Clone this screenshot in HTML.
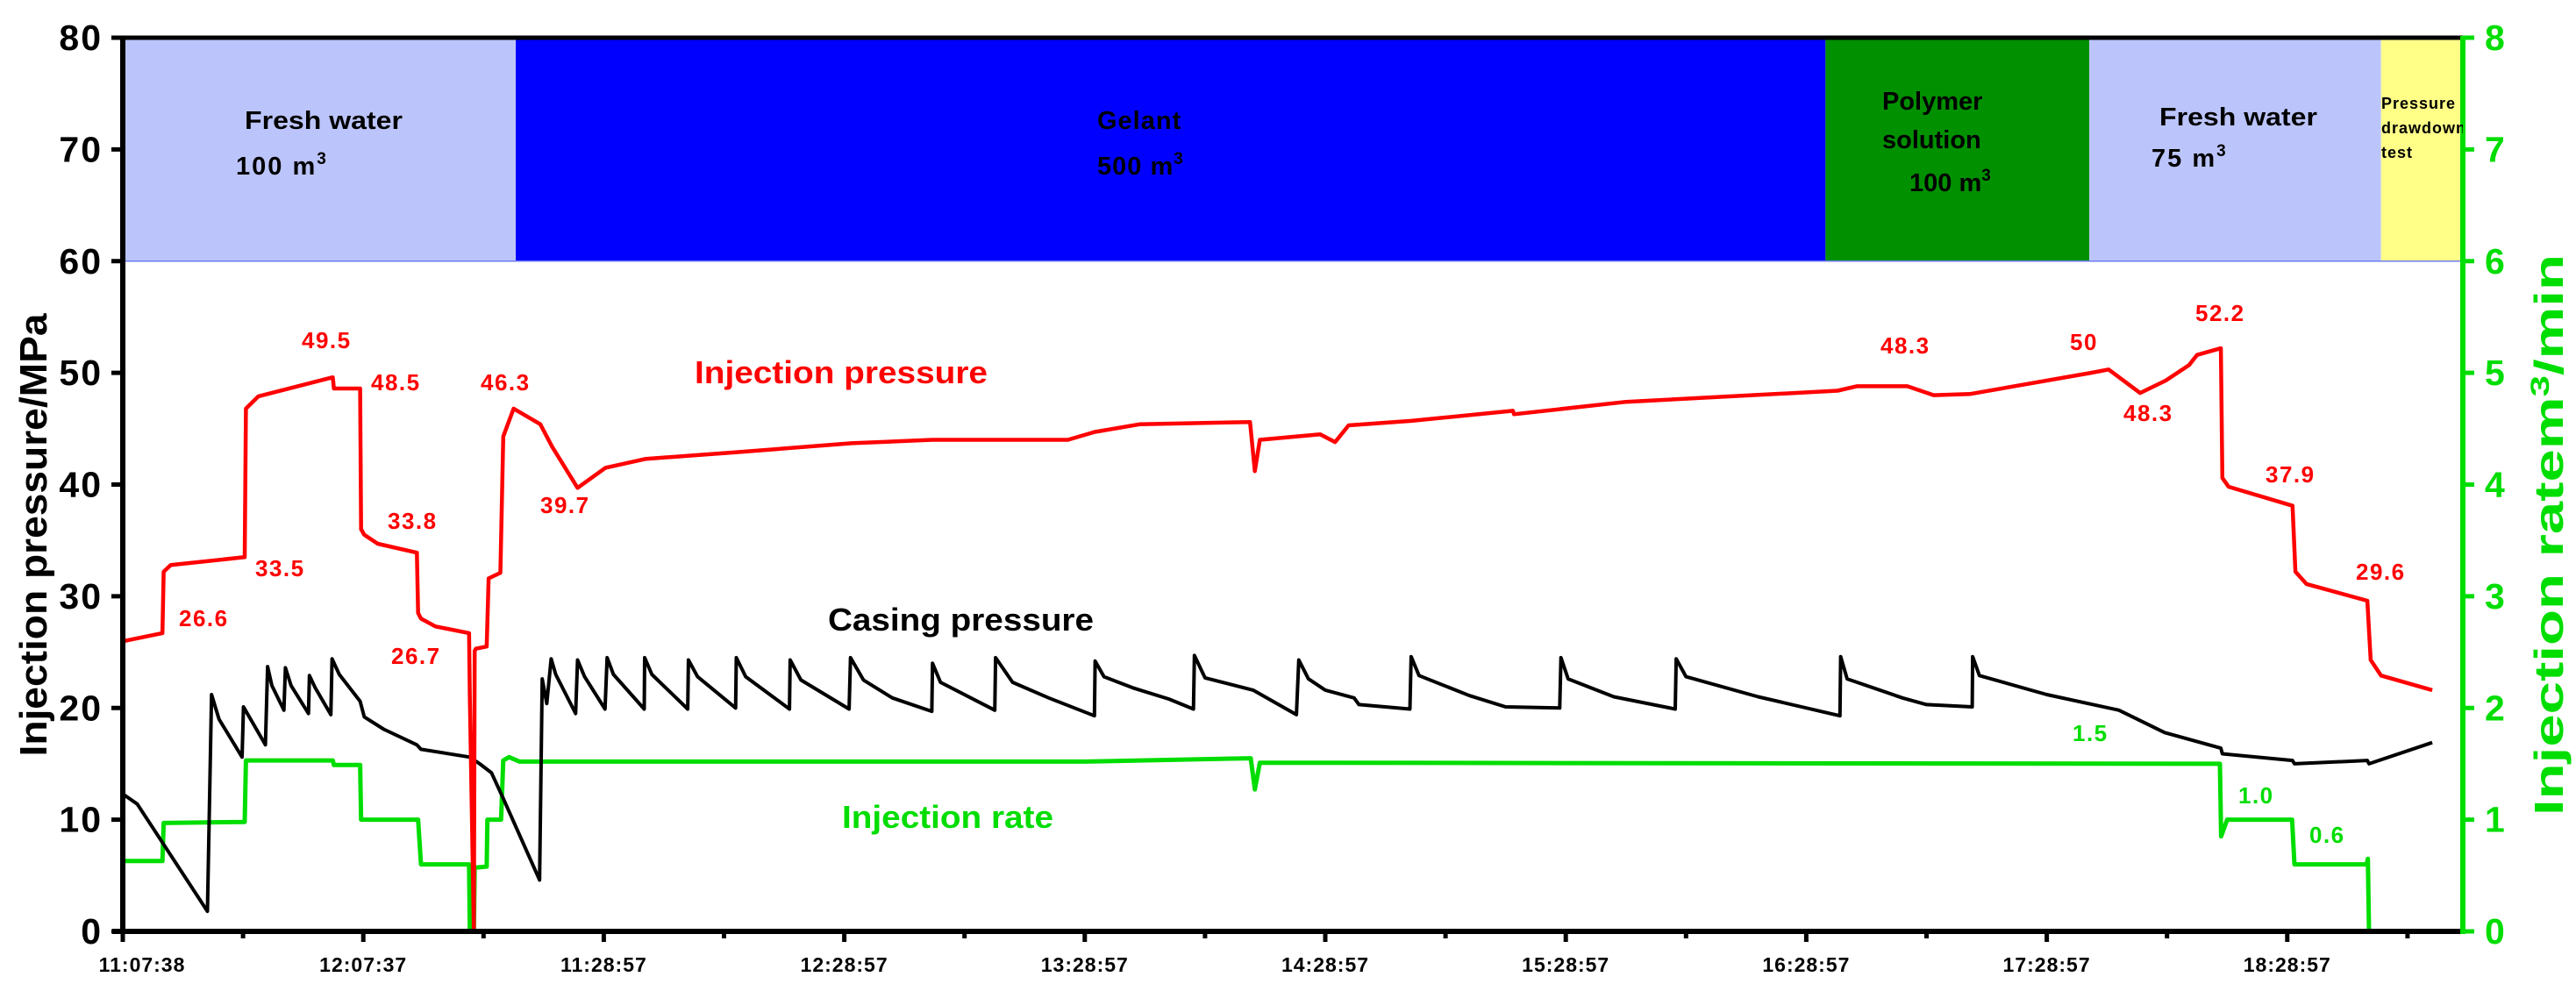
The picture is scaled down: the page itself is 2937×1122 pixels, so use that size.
<!DOCTYPE html>
<html><head><meta charset="utf-8"><style>
html,body{margin:0;padding:0;background:#fff;}
svg{display:block;font-family:"Liberation Sans",Arial,sans-serif;font-weight:bold;}
</style></head><body>
<svg id="chart" width="2937" height="1122" viewBox="0 0 2937 1122" xmlns="http://www.w3.org/2000/svg">
<g id="bands"></g>
<g id="series"></g>
<g id="axes"></g>
<g id="labels"></g>
</svg>
<script>
const leftTicks=[0,10,20,30,40,50,60,70,80];
const rightTicks=[0,1,2,3,4,5,6,7,8];
const xTickLabels=["11:07:38","12:07:37","11:28:57","12:28:57","13:28:57","14:28:57","15:28:57","16:28:57","17:28:57","18:28:57"];
const phaseStart=[0,1.634,7.08,8.177,9.39];
const phaseEnd=[1.634,7.08,8.177,9.39,9.73];
const phaseColors=["#bcc5fb","#0000ff","#009000","#bcc5fb","#ffff88"];
const injectionPressure=[[0.007,26.0],[0.165,26.7],[0.17,32.2],[0.2,32.8],[0.507,33.5],[0.512,46.8],[0.564,47.9],[0.873,49.6],[0.878,48.6],[0.987,48.6],[0.991,36.0],[1.004,35.5],[1.06,34.7],[1.223,33.9],[1.228,28.5],[1.24,28.0],[1.30,27.3],[1.44,26.7],[1.443,20.9],[1.46,0],[1.463,25.1],[1.468,25.3],[1.513,25.5],[1.521,31.6],[1.57,32.1],[1.582,44.3],[1.625,46.8],[1.736,45.4],[1.785,43.4],[1.891,39.7],[2.007,41.5],[2.175,42.3],[2.553,42.9],[3.03,43.7],[3.367,44.0],[3.763,44.0],[3.93,44.0],[4.04,44.7],[4.23,45.4],[4.687,45.6],[4.707,41.2],[4.728,44.0],[4.979,44.5],[5.041,43.8],[5.097,45.3],[5.357,45.7],[5.78,46.6],[5.785,46.3],[6.25,47.4],[7.13,48.4],[7.21,48.8],[7.42,48.8],[7.53,48.0],[7.68,48.1],[8.184,50.0],[8.257,50.3],[8.388,48.2],[8.494,49.3],[8.592,50.7],[8.625,51.6],[8.724,52.2],[8.73,40.6],[8.756,39.8],[9.022,38.1],[9.034,32.2],[9.08,31.1],[9.333,29.6],[9.347,24.3],[9.39,22.9],[9.603,21.6]];
const casingPressure=[[0.007,12.2],[0.06,11.4],[0.352,1.8],[0.369,21.2],[0.40,19.0],[0.496,15.6],[0.502,20.1],[0.593,16.7],[0.602,23.7],[0.62,22.0],[0.67,19.8],[0.676,23.6],[0.70,22.0],[0.772,19.5],[0.776,22.9],[0.80,21.8],[0.865,19.4],[0.87,24.4],[0.90,23.0],[0.987,20.6],[1.004,19.2],[1.085,18.1],[1.223,16.7],[1.24,16.3],[1.443,15.6],[1.484,15.0],[1.533,14.2],[1.582,11.9],[1.733,4.6],[1.744,22.6],[1.763,20.4],[1.781,24.4],[1.80,23.0],[1.883,19.5],[1.891,24.3],[1.92,22.8],[2.005,19.9],[2.014,24.5],[2.04,23.0],[2.168,19.9],[2.17,24.5],[2.20,23.0],[2.349,19.9],[2.352,24.3],[2.39,22.8],[2.548,20.0],[2.551,24.5],[2.59,22.8],[2.772,19.9],[2.775,24.3],[2.82,22.5],[3.02,19.9],[3.026,24.5],[3.08,22.5],[3.2,20.9],[3.364,19.7],[3.367,24.0],[3.40,22.3],[3.626,19.8],[3.629,24.5],[3.70,22.3],[3.85,20.9],[4.04,19.3],[4.043,24.2],[4.08,22.8],[4.2,21.8],[4.35,20.8],[4.452,19.9],[4.456,24.7],[4.50,22.7],[4.7,21.6],[4.88,19.4],[4.89,24.3],[4.93,22.6],[5.0,21.6],[5.12,20.9],[5.14,20.3],[5.352,19.9],[5.357,24.6],[5.39,22.9],[5.6,21.1],[5.75,20.1],[5.975,20.0],[5.98,24.5],[6.01,22.6],[6.2,21.0],[6.455,19.9],[6.459,24.4],[6.50,22.8],[6.8,21.0],[7.14,19.3],[7.143,24.6],[7.17,22.6],[7.40,20.9],[7.50,20.3],[7.69,20.1],[7.692,24.6],[7.72,22.9],[8.0,21.2],[8.3,19.8],[8.49,17.8],[8.724,16.4],[8.73,15.9],[9.022,15.3],[9.03,15.0],[9.333,15.3],[9.34,15.0],[9.603,16.9]];
const injectionRate=[[0.007,0.63],[0.165,0.63],[0.17,0.97],[0.507,0.98],[0.512,1.53],[0.873,1.53],[0.878,1.49],[0.987,1.49],[0.991,1.0],[1.228,1.0],[1.24,0.6],[1.44,0.6],[1.443,0],[1.46,0],[1.463,0.57],[1.513,0.58],[1.516,1.0],[1.573,1.0],[1.582,1.53],[1.606,1.56],[1.65,1.52],[4.0,1.52],[4.69,1.55],[4.707,1.27],[4.728,1.51],[8.72,1.50],[8.725,0.85],[8.75,1.0],[9.02,1.0],[9.03,0.6],[9.33,0.6],[9.335,0.65],[9.34,0]];

const X0=140,X1=2808,Y0=1062,Y1=43,XU=274.2;
function xS(t){return X0+t*XU;}
function yL(p){return Y0-(p/80)*(Y0-Y1);}
function yR(r){return Y0-(r/8)*(Y0-Y1);}
const NS="http://www.w3.org/2000/svg";
function mk(tag,attrs,parent){const e=document.createElementNS(NS,tag);for(const k in attrs)e.setAttribute(k,attrs[k]);parent.appendChild(e);return e;}
const bands=document.getElementById('bands'),series=document.getElementById('series'),axes=document.getElementById('axes'),labels=document.getElementById('labels');

for(let i=0;i<phaseStart.length;i++){
  const r=mk('rect',{x:xS(phaseStart[i]),y:yL(80),width:Math.min(xS(phaseEnd[i]),X1)-xS(phaseStart[i]),height:yL(60)-yL(80),fill:phaseColors[i]},bands);
  
  
}
const bl=mk('line',{x1:X0,x2:X1,y1:yL(60),y2:yL(60),stroke:'#6c7cf0','stroke-width':1.5},bands);



function pathOf(arr,yf){return arr.map((d,i)=>(i?'L':'M')+xS(d[0]).toFixed(1)+' '+yf(d[1]).toFixed(1)).join(' ');}
const gp=mk('path',{d:pathOf(injectionRate,yR),fill:'none',stroke:'#00dd00','stroke-width':5,'stroke-linejoin':'round'},series);


const bp=mk('path',{d:pathOf(casingPressure,yL),fill:'none',stroke:'#000','stroke-width':4,'stroke-linejoin':'round'},series);


const rp=mk('path',{d:pathOf(injectionPressure,yL),fill:'none',stroke:'#ff0000','stroke-width':4.5,'stroke-linejoin':'round'},series);



const la=mk('line',{x1:X0,x2:X0,y1:Y1-2,y2:Y0+3,stroke:'#000','stroke-width':6},axes);


const ta=mk('line',{x1:X0-12,x2:X1,y1:Y1,y2:Y1,stroke:'#000','stroke-width':5},axes);


const ba=mk('line',{x1:X0-12,x2:X1,y1:Y0,y2:Y0,stroke:'#000','stroke-width':6},axes);


const ra=mk('line',{x1:X1,x2:X1,y1:Y1-2,y2:Y0+3,stroke:'#00dd00','stroke-width':6},axes);


leftTicks.forEach(v=>{
  mk('line',{x1:X0-13,x2:X0,y1:yL(v),y2:yL(v),stroke:'#000','stroke-width':5},axes);
  const t=mk('text',{x:117,y:yL(v)+14,'text-anchor':'end','font-size':41,'letter-spacing':2,fill:'#000'},axes);
  t.textContent=v;
  
  
});
rightTicks.forEach(v=>{
  mk('line',{x1:X1,x2:X1+13,y1:yR(v),y2:yR(v),stroke:'#00dd00','stroke-width':5},axes);
  const t=mk('text',{x:2833,y:yR(v)+14,'text-anchor':'start','font-size':41,fill:'#00dd00'},axes);
  t.textContent=v;
  
  
});
xTickLabels.forEach((lab,i)=>{
  mk('line',{x1:xS(i),x2:xS(i),y1:Y0,y2:Y0+12,stroke:'#000','stroke-width':5},axes);
  mk('line',{x1:xS(i+0.5),x2:xS(i+0.5),y1:Y0,y2:Y0+8,stroke:'#000','stroke-width':5},axes);
  const t=mk('text',{x:xS(i)+(i===0?22:0),y:1108,'text-anchor':'middle','font-size':23,'letter-spacing':1,fill:'#000'},axes);
  t.textContent=lab;
  
  
});
</script>
<svg style="position:absolute;left:0;top:0" width="2937" height="1122" viewBox="0 0 2937 1122" xmlns="http://www.w3.org/2000/svg" font-family="Liberation Sans, Arial, sans-serif" font-weight="bold">
<text transform="translate(53,610) rotate(-90)" text-anchor="middle" font-size="44" textLength="505" lengthAdjust="spacingAndGlyphs" fill="#000">Injection pressure/MPa</text>
<text transform="translate(2922,610) rotate(-90)" text-anchor="middle" font-size="46" textLength="640" lengthAdjust="spacingAndGlyphs" fill="#00dd00">Injection ratem<tspan font-size="30" dy="-16">3</tspan><tspan dy="16">/min</tspan></text>
<g font-size="29" fill="#000">
<text x="279" y="147" textLength="180" lengthAdjust="spacingAndGlyphs">Fresh water</text>
<text x="269" y="199" letter-spacing="2">100 m<tspan font-size="19" dy="-12">3</tspan></text>
<text x="1251" y="147" letter-spacing="1">Gelant</text>
<text x="1251" y="199" letter-spacing="1">500 m<tspan font-size="19" dy="-12">3</tspan></text>
<text x="2146" y="125">Polymer</text>
<text x="2146" y="169">solution</text>
<text x="2177" y="218">100 m<tspan font-size="19" dy="-12">3</tspan></text>
<text x="2462" y="143" textLength="180" lengthAdjust="spacingAndGlyphs">Fresh water</text>
<text x="2453" y="190" letter-spacing="2">75 m<tspan font-size="19" dy="-12">3</tspan></text>
<clipPath id="yc"><rect x="2713" y="43" width="95" height="260"/></clipPath>
<g clip-path="url(#yc)" font-size="18" letter-spacing="1">
<text x="2715" y="124">Pressure</text>
<text x="2715" y="152">drawdown</text>
<text x="2715" y="180">test</text>
</g>
</g>
<g font-size="26" letter-spacing="1.5" fill="#ff0000">
<text x="344" y="397">49.5</text>
<text x="423" y="445">48.5</text>
<text x="548" y="445">46.3</text>
<text x="291" y="657">33.5</text>
<text x="204" y="714">26.6</text>
<text x="442" y="603">33.8</text>
<text x="446" y="757">26.7</text>
<text x="616" y="585">39.7</text>
<text x="2144" y="403">48.3</text>
<text x="2360" y="399">50</text>
<text x="2503" y="366">52.2</text>
<text x="2421" y="480">48.3</text>
<text x="2583" y="550">37.9</text>
<text x="2686" y="661">29.6</text>
</g>
<g font-size="26" letter-spacing="1.5" fill="#00dd00">
<text x="2363" y="845">1.5</text>
<text x="2552" y="916">1.0</text>
<text x="2633" y="961">0.6</text>
</g>
<text x="792" y="437" font-size="36" textLength="334" lengthAdjust="spacingAndGlyphs" fill="#ff0000">Injection pressure</text>
<text x="944" y="719" font-size="36" textLength="303" lengthAdjust="spacingAndGlyphs" fill="#000">Casing pressure</text>
<text x="960" y="944" font-size="36" textLength="241" lengthAdjust="spacingAndGlyphs" fill="#00dd00">Injection rate</text>
</svg>
</body></html>
